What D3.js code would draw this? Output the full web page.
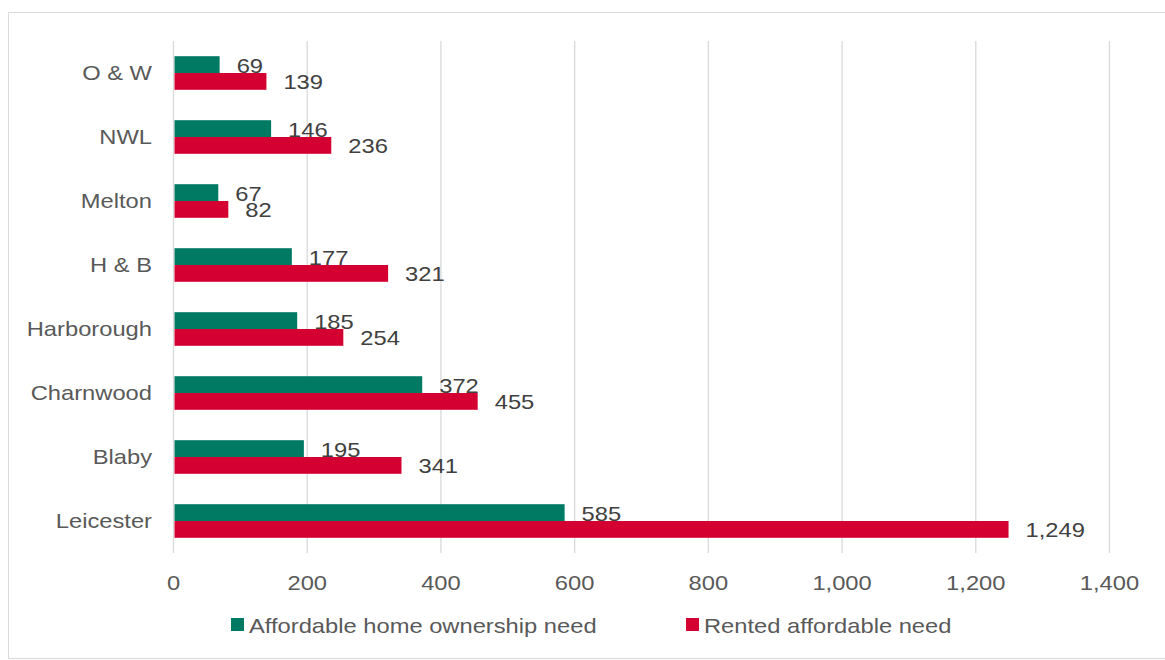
<!DOCTYPE html>
<html>
<head>
<meta charset="utf-8">
<script src="https://cdn.jsdelivr.net/npm/d3@7"></script>
<style>
  html, body { margin: 0; padding: 0; background: #fff; }
  svg { display: block; font-family: "Liberation Sans", Arial, sans-serif; }
</style>
</head>
<body>
<div id="chart"></div>
<script>
// data, top to bottom as shown
const categories = ["O & W", "NWL", "Melton", "H & B", "Harborough", "Charnwood", "Blaby", "Leicester"];
const ownershipNeed = [69, 146, 67, 177, 185, 372, 195, 585];
const rentedNeed = [139, 236, 82, 321, 254, 455, 341, 1249];
const xTicks = [0, 200, 400, 600, 800, 1000, 1200, 1400];
const seriesNames = ["Affordable home ownership need", "Rented affordable need"];
const seriesColors = ["#007A63", "#D50032"];

const width = 1165, height = 660;
const fontSize = 21;
const stretch = 1.13; // reference text is slightly wider than plain Arial

const svg = d3.select("#chart").append("svg")
  .attr("width", width)
  .attr("height", height);

// places text at (x, y) with a small horizontal stretch
const place = (fx, fy) => d => `translate(${fx(d)},${fy(d)}) scale(${stretch},1)`;

// outer frame
svg.append("rect")
  .attr("x", 8.5).attr("y", 12.5)
  .attr("width", width - 8).attr("height", height - 14)
  .attr("fill", "none")
  .attr("stroke", "#d9d9d9");

const x = d3.scaleLinear().domain([0, 1400]).range([173.5, 1109.5]);
const y = d3.scaleBand().domain(categories).range([41, 553]).paddingInner(0).paddingOuter(0);
const barH = 16.8;

// gridlines
svg.append("g")
  .selectAll("line")
  .data(xTicks)
  .join("line")
  .attr("x1", d => x(d)).attr("x2", d => x(d))
  .attr("y1", 41).attr("y2", 553)
  .attr("stroke", "#d9d9d9")
  .attr("stroke-width", 1.3);

// tick labels
svg.append("g")
  .selectAll("text")
  .data(xTicks)
  .join("text")
  .attr("transform", place(d => x(d), () => 590))
  .attr("text-anchor", "middle")
  .attr("font-size", fontSize + "px")
  .attr("fill", "#595959")
  .text(d => d3.format(",")(d));

// category labels
svg.append("g")
  .selectAll("text")
  .data(categories)
  .join("text")
  .attr("transform", place(() => 152, d => y(d) + y.bandwidth() / 2 + 7))
  .attr("text-anchor", "end")
  .attr("font-size", fontSize + "px")
  .attr("fill", "#595959")
  .text(d => d);

const series = [ownershipNeed, rentedNeed];

series.forEach((vals, si) => {
  const rows = categories.map((c, i) => ({ c, v: vals[i] }));
  const yOff = si === 0 ? -barH : 0;
  const g = svg.append("g");
  g.selectAll("rect")
    .data(rows)
    .join("rect")
    .attr("x", x(0) + 1)
    .attr("y", d => y(d.c) + y.bandwidth() / 2 + yOff)
    .attr("width", d => x(d.v) - x(0) - 1)
    .attr("height", barH)
    .attr("fill", seriesColors[si]);

  g.selectAll("text")
    .data(rows)
    .join("text")
    .attr("transform", place(d => x(d.v) + 17, d => y(d.c) + y.bandwidth() / 2 + yOff + barH / 2 + 8))
    .attr("font-size", fontSize + "px")
    .attr("fill", "#404040")
    .text(d => d3.format(",")(d.v));
});

// legend
const legendItems = [
  { name: seriesNames[0], color: seriesColors[0], x: 231 },
  { name: seriesNames[1], color: seriesColors[1], x: 686 }
];
const lg = svg.append("g").selectAll("g").data(legendItems).join("g")
  .attr("transform", d => `translate(${d.x},618)`);
lg.append("rect").attr("width", 13).attr("height", 13).attr("fill", d => d.color);
lg.append("text")
  .attr("transform", `translate(18,14.5) scale(${stretch},1)`)
  .attr("font-size", fontSize + "px")
  .attr("fill", "#595959")
  .text(d => d.name);
</script>
</body>
</html>
